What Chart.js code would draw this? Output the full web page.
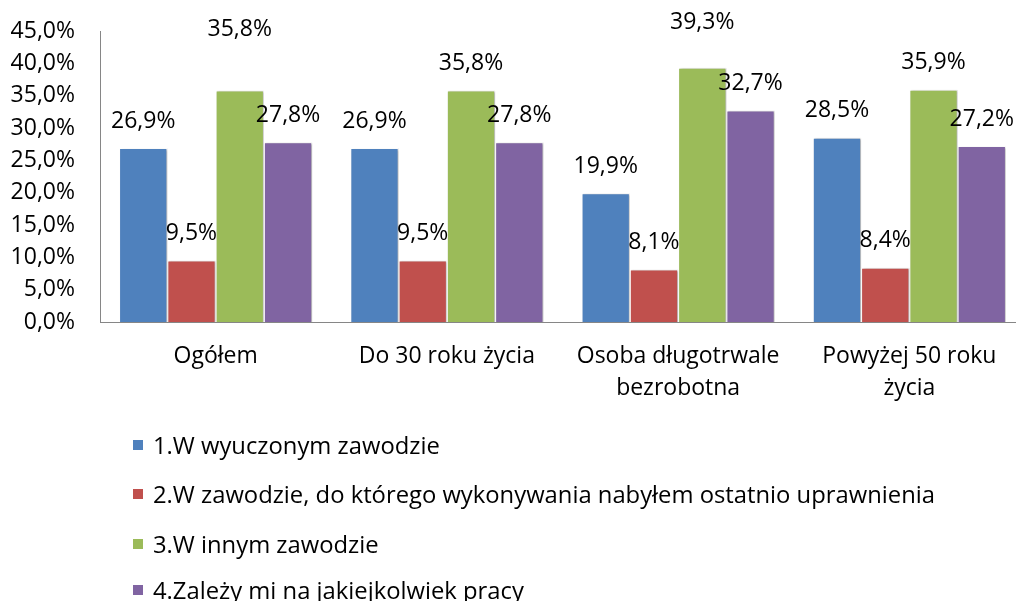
<!DOCTYPE html>
<html>
<head>
<meta charset="utf-8">
<script src="https://cdn.jsdelivr.net/npm/chart.js@4.4.1/dist/chart.umd.min.js"></script>
<style>
  html, body { margin: 0; padding: 0; background: #fff; overflow: hidden; width: 1016px; height: 601px; }
  #wrap { position: absolute; left: 0; top: 0; width: 1030px; height: 601px; }
  #legend { position: absolute; left: 133px; top: 0; font-family: "Open Sans", sans-serif; font-size: 23.8px; color: #000; }
  .item { position: absolute; left: 0; white-space: nowrap; display: flex; align-items: center; height: 30px; }
  .sw { width: 10px; height: 10px; margin-right: 10px; flex: none; }
</style>
</head>
<body>
<div id="wrap"><canvas id="c" width="1030" height="601"></canvas></div>
<div id="legend"></div>
<script>
// ---- data ----
const categories = ['Ogółem', 'Do 30 roku życia', ['Osoba długotrwale', 'bezrobotna'], ['Powyżej 50 roku', 'życia']];
const seriesNames = [
  '1.W wyuczonym zawodzie',
  '2.W zawodzie, do którego wykonywania nabyłem ostatnio uprawnienia',
  '3.W innym zawodzie',
  '4.Zależy mi na jakiejkolwiek pracy'
];
const s1 = [26.9, 26.9, 19.9, 28.5];
const s2 = [9.5, 9.5, 8.1, 8.4];
const s3 = [35.8, 35.8, 39.3, 35.9];
const s4 = [27.8, 27.8, 32.7, 27.2];
const yTicks = [0, 5, 10, 15, 20, 25, 30, 35, 40, 45];

// ---- styles ----
const colors = ['#4F81BD', '#C0504D', '#9BBB59', '#8064A2'];
const FONT = '"Open Sans", sans-serif';
// extra upward lift (px) of individual value labels, [series][category]
const labelLift = [[0,0,0,0],[0,0,0,0],[34,0,18,0],[0,0,0,0]];
const fmt = v => v.toFixed(1).replace('.', ',') + '%';

const values = [s1, s2, s3, s4];

const valueLabels = {
  id: 'valueLabels',
  beforeDatasetsDraw(chart) {
    const ctx = chart.ctx;
    ctx.save();
    ctx.shadowColor = 'rgba(0,0,0,0.28)';
    ctx.shadowBlur = 2;
    ctx.shadowOffsetX = 1.5;
    ctx.shadowOffsetY = 0.5;
  },
  afterDatasetsDraw(chart) {
    const ctx = chart.ctx;
    ctx.restore();
    ctx.save();
    ctx.font = '23px ' + FONT;
    ctx.fillStyle = '#000';
    ctx.textAlign = 'center';
    ctx.textBaseline = 'middle';
    chart.data.datasets.forEach((ds, i) => {
      const meta = chart.getDatasetMeta(i);
      meta.data.forEach((bar, j) => {
        const y = bar.y - 27 - labelLift[i][j];
        ctx.fillText(fmt(ds.data[j]), bar.x, y);
      });
    });
    ctx.restore();
  }
};

new Chart(document.getElementById('c'), {
  type: 'bar',
  data: {
    labels: categories,
    datasets: values.map((v, i) => ({
      label: seriesNames[i],
      data: v,
      backgroundColor: colors[i],
      borderColor: '#ffffff',
      borderWidth: 1,
      barPercentage: 1,
      categoryPercentage: 0.835
    }))
  },
  options: {
    responsive: false,
    animation: false,
    events: [],
    layout: { padding: { top: 31, right: 5, left: 0, bottom: 0 } },
    plugins: { legend: { display: false }, tooltip: { enabled: false } },
    scales: {
      x: {
        grid: { display: false, drawTicks: false },
        border: { display: true, color: '#868686', width: 1 },
        ticks: {
          color: '#000', padding: 18, maxRotation: 0, autoSkip: false,
          font: { family: FONT, size: 23, lineHeight: 1.39 }
        },
        afterFit(scale) { scale.height = 279; scale.paddingLeft = 0; scale.paddingRight = 0; }
      },
      y: {
        min: 0, max: 45,
        afterBuildTicks(scale) { scale.ticks = yTicks.map(v => ({ value: v })); },
        grid: { display: false, drawTicks: false },
        border: { display: true, color: '#868686', width: 1 },
        ticks: {
          color: '#000', padding: 25,
          font: { family: FONT, size: 23 },
          callback: v => fmt(v)
        },
        afterFit(scale) { scale.width = 100; scale.paddingTop = 0; scale.paddingBottom = 0; }
      }
    }
  },
  plugins: [valueLabels]
});

// legend (HTML)
const legendTops = [445, 494, 544, 590];
const lg = document.getElementById('legend');
seriesNames.forEach((n, i) => {
  const d = document.createElement('div');
  d.className = 'item';
  d.style.top = (legendTops[i] - 15) + 'px';
  const sw = document.createElement('span');
  sw.className = 'sw';
  sw.style.background = colors[i];
  const t = document.createElement('span');
  t.textContent = n;
  d.appendChild(sw); d.appendChild(t);
  lg.appendChild(d);
});
</script>
</body>
</html>
